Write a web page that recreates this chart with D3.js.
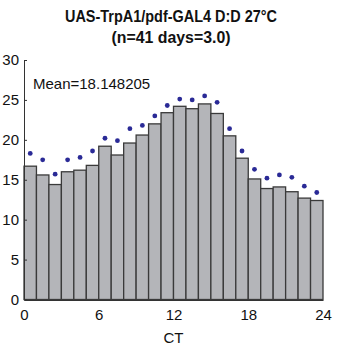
<!DOCTYPE html>
<html><head><meta charset="utf-8">
<script src="https://cdn.jsdelivr.net/npm/d3@7"></script>
<style>body{margin:0;background:#fff}svg{display:block}text{font-family:"Liberation Sans",Arial,sans-serif}</style>
</head><body><svg id="c" width="353" height="353"></svg>
<script>
const titleLines = ["UAS-TrpA1/pdf-GAL4 D:D 27\u00B0C", "(n=41 days=3.0)"];
const meanLabel = "Mean=18.148205";
const xLabel = "CT";
const hours = d3.range(0, 24);
const barValues = [16.7,15.6,14.4,16.0,16.2,16.8,19.2,18.1,19.6,20.6,22.0,23.4,24.2,23.9,24.5,23.3,20.5,17.7,15.1,13.9,14.1,13.5,12.7,12.4];
const dotValues = [18.3,17.5,15.7,17.5,17.8,18.6,20.2,19.9,21.4,21.8,23.0,24.3,25.1,25.0,25.5,24.7,21.4,18.6,16.3,15.2,15.6,15.3,14.2,13.4];
const xTicks = [0,6,12,18,24];
const yTicks = [0,5,10,15,20,25,30];

const svg = d3.select("#c");
const x = d3.scaleLinear().domain([0,24]).range([24,323]);
const y = d3.scaleLinear().domain([0,30]).range([299.5,60]);

svg.selectAll("rect.bar").data(barValues).join("rect")
  .attr("x",(d,i)=>x(hours[i])).attr("width",x(1)-x(0))
  .attr("y",d=>y(d)).attr("height",d=>y(0)-y(d))
  .attr("fill","#b4b5b9").attr("stroke","#3a3a3a").attr("stroke-width",1.3);

svg.selectAll("circle.dot").data(dotValues).join("circle")
  .attr("cx",(d,i)=>x(hours[i]+0.5)).attr("cy",d=>y(d)).attr("r",2.4)
  .attr("fill","#2a2a96");

const yAxis = d3.axisLeft(y).tickValues(yTicks).tickSize(-3).tickPadding(6);
const gy = svg.append("g").attr("transform","translate(24,0)").call(yAxis);
gy.select(".domain").attr("stroke","#333");
gy.selectAll(".tick line").attr("stroke","#333");
gy.selectAll("text").attr("font-size",15).attr("fill","#111").attr("dx","1");

const xAxis = d3.axisBottom(x).tickValues(xTicks).tickSize(0).tickPadding(9);
const gx = svg.append("g").attr("transform","translate(0,300)").call(xAxis);
gx.select(".domain").attr("stroke","#333");
gx.selectAll("text").attr("font-size",15).attr("fill","#111");

svg.append("text").attr("x",x(12)).attr("y",343).attr("text-anchor","middle")
  .attr("font-size",15).attr("fill","#111").text(xLabel);

svg.append("text").attr("x",33).attr("y",89).attr("font-size",15).attr("fill","#111").text(meanLabel);

const titleWidths = [212, 119];
svg.selectAll("text.title").data(titleLines).join("text")
  .attr("x",171).attr("y",(d,i)=>22+i*21).attr("text-anchor","middle")
  .attr("font-size",16).attr("font-weight","bold").attr("fill","#111")
  .attr("textLength",(d,i)=>titleWidths[i]).attr("lengthAdjust","spacingAndGlyphs").text(d=>d);
</script></body></html>
